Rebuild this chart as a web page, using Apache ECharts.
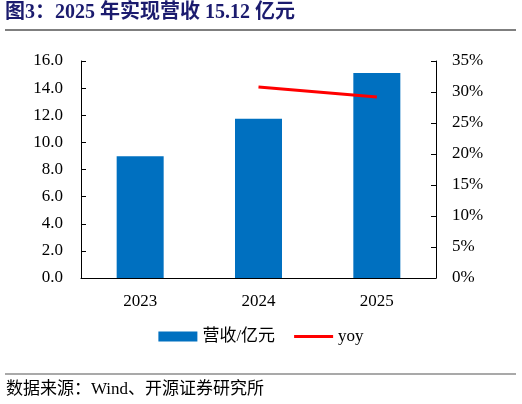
<!DOCTYPE html>
<html>
<head>
<meta charset="utf-8">
<script src="https://cdn.jsdelivr.net/npm/echarts@6/dist/echarts.min.js"></script>
<style>
html,body{margin:0;padding:0;background:#fff;}
#chartsBox{width:522px;height:404px;}
</style>
</head>
<body>
<div id="chartsBox"></div>
<script>
var years=['2023','2024','2025'];
var revenue=[8.97,11.75,15.12];
var yoy=[null,30.8,29.2];
var leftTicks=[0,2,4,6,8,10,12,14,16];
var rightTicks=[0,5,10,15,20,25,30,35];

var fontFam='"Liberation Serif","Times New Roman","Noto Sans CJK SC",serif';
var chartsBox=echarts.init(document.getElementById('chartsBox'));
var option={
	animation:false,
	textStyle:{fontFamily:fontFam},
	grid:{left:81,right:86,top:61,bottom:126},
	legend:{
		bottom:54,
		left:'center',
		itemWidth:39,
		itemHeight:10,
		itemGap:19,
		textStyle:{fontSize:17,color:'#000',fontFamily:fontFam},
		data:[{name:'营收/亿元',icon:'rect'},{name:'yoy',icon:'path://M0,0L40,0L40,3L0,3Z'}]
	},
	xAxis:{
		type:'category',
		data:years,
		axisLine:{lineStyle:{color:'#000',width:1}},
		axisTick:{inside:true,length:5,lineStyle:{color:'#000'}},
		axisLabel:{fontSize:17,color:'#000',margin:15}
	},
	yAxis:[{
		type:'value',
		min:leftTicks[0],
		max:leftTicks[leftTicks.length-1],
		interval:2,
		axisLine:{show:true,lineStyle:{color:'#000'}},
		axisTick:{show:true,inside:true,length:5,lineStyle:{color:'#000'}},
		splitLine:{show:false},
		axisLabel:{fontSize:17,color:'#000',margin:18,formatter:function(v){return v.toFixed(1);}}
	},{
		type:'value',
		min:rightTicks[0],
		max:rightTicks[rightTicks.length-1],
		interval:5,
		position:'right',
		axisLine:{show:true,lineStyle:{color:'#000'}},
		axisTick:{show:true,inside:true,length:5,lineStyle:{color:'#000'}},
		splitLine:{show:false},
		axisLabel:{fontSize:17,color:'#000',margin:16,formatter:'{value}%'}
	}],
	series:[{
		name:'营收/亿元',
		type:'bar',
		barWidth:47,
		itemStyle:{color:'#0070C0'},
		data:revenue
	},{
		name:'yoy',
		type:'line',
		yAxisIndex:1,
		symbol:'none',
		lineStyle:{color:'#FF0000',width:3},
		itemStyle:{color:'#FF0000'},
		data:yoy
	}],
	graphic:[{
		type:'text',
		left:5,
		top:3,
		style:{text:'图3：2025 年实现营收 15.12 亿元',font:'bold 20px "Liberation Serif","Noto Sans CJK SC",serif',fill:'#1B1B6E'}
	},{
		type:'line',
		shape:{x1:5,y1:30,x2:516,y2:30},
		style:{stroke:'#000',lineWidth:1.2}
	},{
		type:'line',
		shape:{x1:5,y1:374,x2:516,y2:374},
		style:{stroke:'#555',lineWidth:1.2}
	},{
		type:'text',
		left:6,
		top:381,
		style:{text:'数据来源：Wind、开源证券研究所',font:'17px "Liberation Serif","Noto Sans CJK SC",serif',fill:'#000'}
	}]
};
chartsBox.setOption(option);
</script>
</body>
</html>
